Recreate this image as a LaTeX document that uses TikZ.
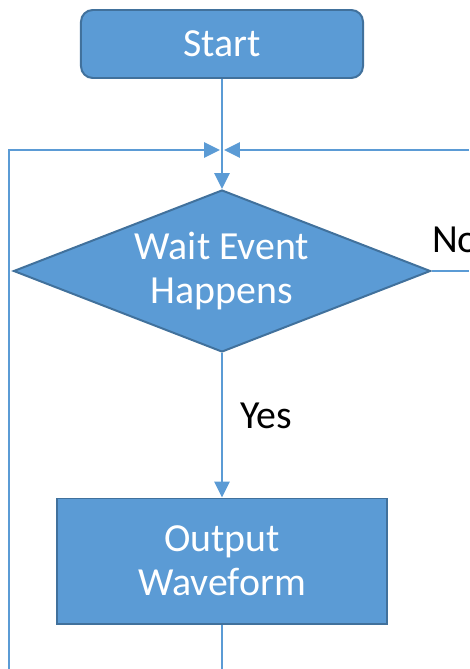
\documentclass[tikz,border=0pt]{standalone}
\usepackage{fontspec}
\setmainfont{Carlito}
\usetikzlibrary{shapes.geometric, arrows.meta, positioning, calc}
\definecolor{boxblue}{HTML}{5B9BD5}
\definecolor{edgeblue}{HTML}{41719C}

\begin{document}
\begin{tikzpicture}[x=0.03cm, y=-0.03cm,
        every node/.style={font=\fontsize{34}{37.5}\selectfont},
        block/.style={draw=edgeblue, line width=1.7pt, fill=boxblue, text=white, align=center, inner sep=0pt},
        flow/.style={draw=boxblue, line width=1.7pt, -{Triangle[length=13.6pt, width=13pt]}},
        wire/.style={draw=boxblue, line width=1.7pt}]
        \clip (0,0) rectangle (469,669);

        % Blocks
        \node[block, rounded corners=10pt, minimum width=8.46cm, minimum height=2.04cm] (start) at (222,44) {Start};
        \node[block, diamond, aspect=2.57, minimum width=12.51cm, minimum height=4.86cm] (wait) at (222,271) {Wait Event\\Happens};
        \node[block, minimum width=9.9cm, minimum height=3.75cm] (output) at (222,561) {Output\\Waveform};

        % Labels
        \node (yes) at (266,416) {Yes};
        \node[anchor=west, inner sep=0pt] (no) at (432,240) {No};

        \coordinate (joinL) at (220,150);
        \coordinate (joinR) at (224,150);
        \coordinate (loopL) at (9,669);
        \coordinate (loopR) at (469,150);
        \coordinate (exitNo) at (469,271);
        \coordinate (exitOut) at (222,669);

        % Connectors
        \draw[flow] (start) -- (wait);
        \draw[flow] (wait) -- (output);
        \draw[wire] (output) -- (exitOut);
        \draw[wire] (wait.east) -- (exitNo);
        \draw[flow] (loopL) |- (joinL);
        \draw[flow] (loopR) -- (joinR);
    \end{tikzpicture}
\end{document}
